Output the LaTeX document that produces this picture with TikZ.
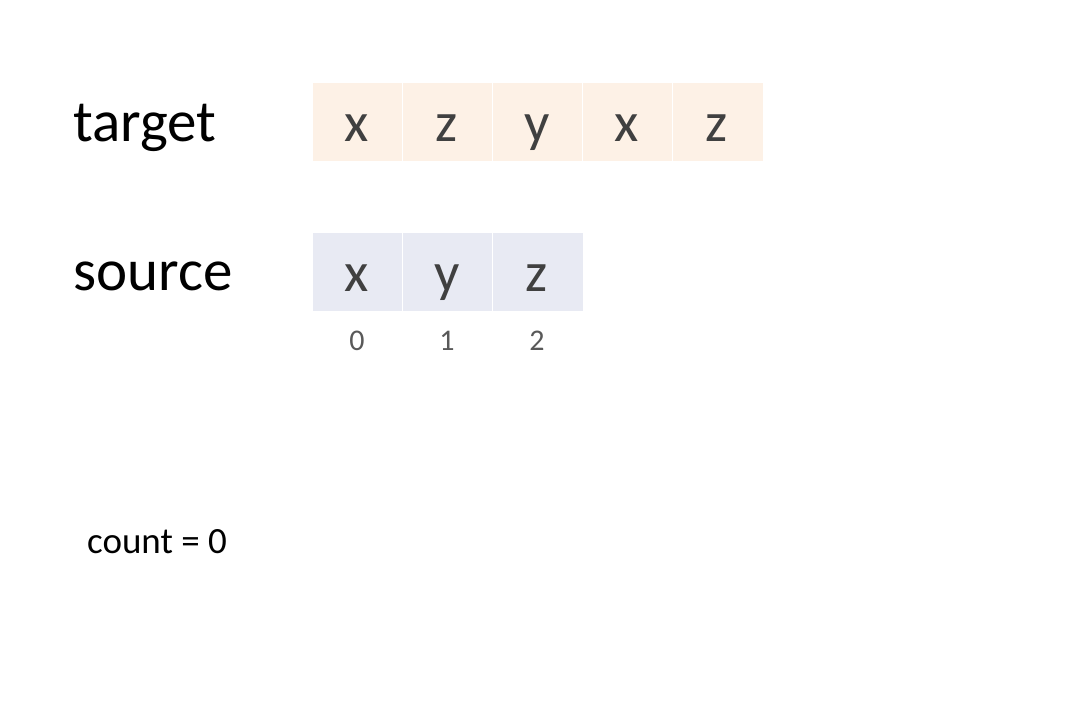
\documentclass[tikz,border=0pt]{standalone}
\usepackage{fontspec}
\setmainfont{Carlito}
\definecolor{tfill}{HTML}{FDF1E6}
\definecolor{sfill}{HTML}{E8EAF3}
\definecolor{ctext}{HTML}{404040}
\definecolor{itext}{HTML}{595959}
\begin{document}
\begin{tikzpicture}[x=1pt,y=-1pt,
  cell/.style={draw=white,line width=1pt,minimum width=91pt,minimum height=79pt,inner sep=0pt,anchor=north west},
  tcell/.style={cell,fill=tfill},
  scell/.style={cell,fill=sfill},
  letter/.style={anchor=base,inner sep=0pt,text=ctext,font=\fontsize{56}{60}\selectfont},
  idx/.style={anchor=base,inner sep=0pt,text=itext,font=\fontsize{30}{34}\selectfont},
  lbl/.style={anchor=base west,inner sep=0pt,font=\fontsize{59}{64}\selectfont}]
\useasboundingbox (0,0) rectangle (1073,720);
\node[lbl] (tl) at (73,141) {target};
\node[lbl] (sl) at (73,290) {source};
\foreach \i/\c in {0/x,1/z,2/y,3/x,4/z}{
  \node[tcell] (t\i) at (311.5+90*\i,81.5) {};
  \node[letter] (tc\i) at (357+90*\i,141) {\c};
}
\foreach \i/\c in {0/x,1/y,2/z}{
  \node[scell] (s\i) at (311.5+90*\i,231.5) {};
  \node[letter] (sc\i) at (357+90*\i,291) {\c};
  \node[idx] (n\i) at (357+90*\i,350) {\i};
}
\node[anchor=base west,inner sep=0pt,font=\fontsize{37}{40}\selectfont] (cnt) at (87,553) {count = 0};
\end{tikzpicture}
\end{document}
